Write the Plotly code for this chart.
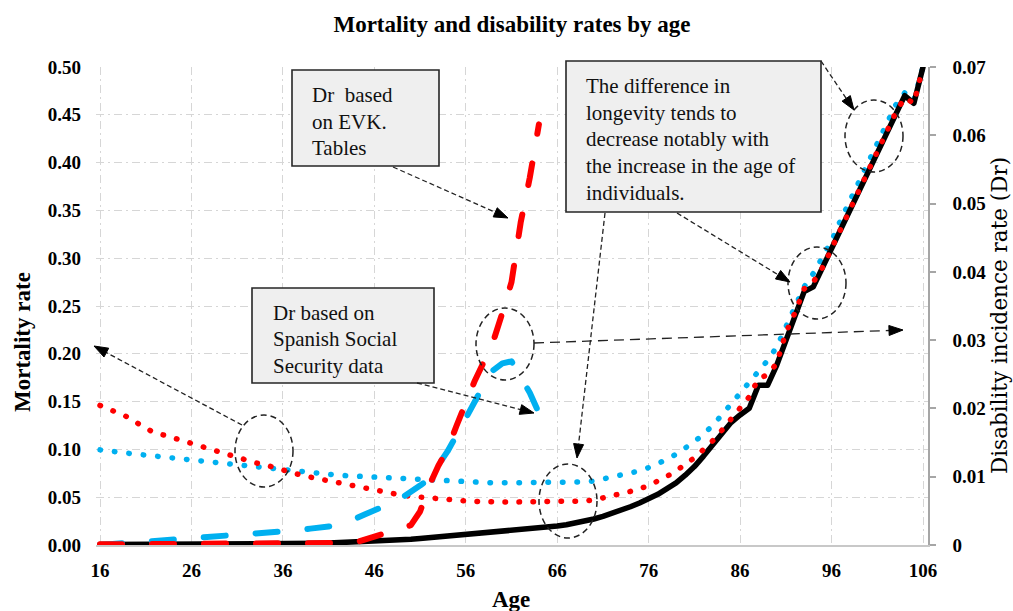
import plotly.graph_objects as go
import numpy as np

# ---------------- data ----------------
ages = list(range(16, 107))
x_ticks = [16, 26, 36, 46, 56, 66, 76, 86, 96, 106]

# Mortality rate (left axis), solid black
mort_black = [0.0004,0.0004,0.0005,0.0005,0.0005,0.0005,0.0005,0.0005,0.0006,0.0006,
              0.0006,0.0006,0.0007,0.0007,0.0008,0.0008,0.0009,0.0009,0.0010,0.0011,
              0.0012,0.0013,0.0014,0.0016,0.0018,0.0020,0.0023,0.0026,0.0029,0.0033,
              0.0037,0.0042,0.0047,0.0053,0.0060,0.0067,0.0075,0.0083,0.0092,0.0101,
              0.0110,0.0120,0.0130,0.0140,0.0150,0.0159,0.0167,0.0175,0.0183,0.0190,
              0.0198,0.0212,0.0228,0.0248,0.0272,0.0300,0.0330,0.0365,0.0400,0.0440,
              0.0480,0.0530,0.0590,0.0650,0.0730,0.0820,0.0930,0.1050,0.1170,0.1280,
              0.1360,0.1430,0.1670,0.1670,0.1880,0.2130,0.2380,0.2650,0.2700,0.2900,
              0.3100,0.3300,0.3500,0.3700,0.3900,0.4100,0.4300,0.4500,0.4700,0.4620,0.5000]

# Mortality rate (left axis), red dotted
mort_red = [0.146,0.142,0.138,0.134,0.128,0.122,0.117,0.115,0.112,0.110,
            0.107,0.104,0.100,0.097,0.094,0.091,0.088,0.086,0.084,0.081,
            0.078,0.075,0.073,0.071,0.069,0.068,0.066,0.063,0.061,0.059,
            0.058,0.056,0.054,0.052,0.051,0.050,0.049,0.048,0.048,0.047,
            0.046,0.0455,0.045,0.045,0.045,0.045,0.045,0.045,0.045,0.045,
            0.045,0.045,0.046,0.046,0.047,0.049,0.051,0.053,0.056,0.059,
            0.062,0.067,0.072,0.077,0.085,0.091,0.100,0.109,0.120,0.131,
            0.142,0.155,0.174,0.178,0.190,0.222,0.243,0.268,0.275,0.290,
            0.310,0.330,0.351,0.372,0.393,0.413,0.433,0.452,0.468,0.462,0.500]

# Mortality rate (left axis), blue dotted
mort_blue = [0.0995,0.098,0.097,0.096,0.095,0.094,0.093,0.092,0.091,0.090,
             0.089,0.088,0.086,0.085,0.084,0.083,0.082,0.081,0.080,0.079,
             0.078,0.077,0.076,0.0757,0.075,0.074,0.073,0.0725,0.072,0.0715,
             0.071,0.070,0.0695,0.069,0.0685,0.068,0.068,0.067,0.0665,0.066,
             0.0655,0.065,0.065,0.065,0.065,0.065,0.065,0.065,0.065,0.065,
             0.065,0.065,0.0655,0.066,0.067,0.069,0.071,0.073,0.0755,0.0775,
             0.081,0.085,0.0895,0.095,0.101,0.108,0.116,0.125,0.136,0.147,
             0.158,0.169,0.181,0.193,0.207,0.228,0.250,0.270,0.284,0.301,
             0.318,0.340,0.360,0.381,0.400,0.420,0.441,0.460,0.473,0.465,0.500]

# Disability incidence rate (right axis), ages 16..64
dr_ages = list(range(16, 65))
dr_evk = [0.0001,0.0001,0.0001,0.0001,0.0001,0.0001,0.0001,0.0001,0.0001,0.0001,
          0.0001,0.0001,0.0001,0.0001,0.0001,0.0001,0.0001,0.0001,0.0001,0.0001,
          0.0001,0.0001,0.0001,0.0001,0.0001,0.0002,0.0002,0.0003,0.0004,0.0008,
          0.0011,0.0015,0.0020,0.0024,0.0029,0.0049,0.0087,0.0116,0.0140,0.0175,
          0.0210,0.0241,0.0269,0.0298,0.0340,0.0385,0.0472,0.0538,0.0616]
dr_spain = [0.0000,0.0001,0.0002,0.0002,0.0003,0.0004,0.0005,0.0005,0.0006,0.0007,
            0.0008,0.0010,0.0011,0.0012,0.0013,0.0014,0.0015,0.0016,0.0017,0.0018,
            0.0020,0.0021,0.0022,0.0024,0.0025,0.0027,0.0030,0.0034,0.0039,0.0045,
            0.0050,0.0055,0.0062,0.0069,0.0077,0.0087,0.0097,0.0116,0.0137,0.0161,
            0.0186,0.0211,0.0235,0.0256,0.0266,0.0269,0.0248,0.0223,0.0193]

y_left_ticks = [0.0, 0.05, 0.10, 0.15, 0.20, 0.25, 0.30, 0.35, 0.40, 0.45, 0.50]
y_right_ticks = [0, 0.01, 0.02, 0.03, 0.04, 0.05, 0.06, 0.07]
y_right_labels = ["0", "0.01", "0.02", "0.03", "0.04", "0.05", "0.06", "0.07"]

title_text = "Mortality and disability rates by age"
box1_lines = ["Dr\u00a0 based", "on EVK.", "Tables"]
box2_lines = ["Dr based on", "Spanish Social", "Security data"]
box3_lines = ["The difference in", "longevity tends to", "decrease notably with",
              "the increase in the age of", "individuals."]

# ---------------- layout geometry (pixels) ----------------
W, H = 1013, 611
L, R, T, B = 96, 928, 67, 545
PW, PH = R - L, B - T
SERIF = "Liberation Serif"
RED = "#ff0000"
BLUE = "#00b0f0"


def px(x):
    return (x - L) / PW


def py(y):
    return (B - y) / PH


fig = go.Figure()

fig.add_trace(go.Scatter(x=ages, y=mort_blue, mode="lines",
                         line=dict(color=BLUE, width=5.5, dash="0.5px,14px"),
                         showlegend=False, hoverinfo="skip"))
fig.add_trace(go.Scatter(x=ages, y=mort_black, mode="lines",
                         line=dict(color="#000000", width=5.5),
                         showlegend=False, hoverinfo="skip"))
fig.add_trace(go.Scatter(x=dr_ages, y=dr_spain, mode="lines", yaxis="y2",
                         line=dict(color=BLUE, width=6, dash="22px,30px"),
                         showlegend=False, hoverinfo="skip"))
fig.add_trace(go.Scatter(x=dr_ages, y=dr_evk, mode="lines", yaxis="y2",
                         line=dict(color=RED, width=6, dash="22px,30px"),
                         showlegend=False, hoverinfo="skip"))
fig.add_trace(go.Scatter(x=ages, y=mort_red, mode="lines",
                         line=dict(color=RED, width=5.5, dash="0.5px,13.5px"),
                         showlegend=False, hoverinfo="skip"))

tickfont = dict(family=SERIF, size=19, color="#000000", weight="bold")
griddash = "8px,4px,2px,4px"

x0 = 16 - 4 / 9.144
x1 = 106 + 5 / 9.144

fig.update_layout(
    width=W, height=H,
    margin=dict(l=L, r=W - R, t=T, b=H - B, pad=0),
    paper_bgcolor="white", plot_bgcolor="white",
    title=dict(text=title_text, x=px(512), xref="paper", xanchor="center",
               y=1 - 24 / H, yref="container", yanchor="middle",
               font=dict(family=SERIF, size=23, color="#000000", weight="bold")),
    xaxis=dict(range=[x0, x1], tickvals=x_ticks, showgrid=True,
               gridcolor="#d6d6d6", gridwidth=1, griddash=griddash,
               showline=True, linecolor="#c8c8c8", linewidth=1.5,
               zeroline=False, ticks="", ticklabelstandoff=7,
               tickfont=tickfont),
    yaxis=dict(range=[0, 0.5], tickvals=y_left_ticks, tickformat=".2f",
               showgrid=True, gridcolor="#d6d6d6", gridwidth=1, griddash=griddash,
               showline=False, zeroline=False, ticks="", ticklabelstandoff=14,
               tickfont=tickfont),
    yaxis2=dict(range=[0, 0.07], overlaying="y", side="right",
                tickvals=y_right_ticks, ticktext=y_right_labels,
                showgrid=False, zeroline=False, showline=True,
                linecolor="#a6a6a6", linewidth=1.5, ticks="outside",
                ticklen=6, tickcolor="#a6a6a6", tickwidth=1.5,
                ticklabelstandoff=13, tickfont=tickfont),
)

annotations = []
# axis titles
annotations.append(dict(text="Mortality rate", x=px(22), y=py(342), xref="paper", yref="paper",
                        showarrow=False, textangle=-90, xanchor="center", yanchor="middle",
                        font=dict(family=SERIF, size=23, color="#000", weight="bold")))
annotations.append(dict(text="Disability incidence rate (Dr)", x=px(999), y=py(316),
                        xref="paper", yref="paper", showarrow=False, textangle=-90,
                        xanchor="center", yanchor="middle",
                        font=dict(family="DejaVu Serif", size=21.5, color="#000")))
annotations.append(dict(text="Age", x=px(511), y=py(599), xref="paper", yref="paper",
                        showarrow=False, xanchor="center", yanchor="middle",
                        font=dict(family=SERIF, size=23, color="#000", weight="bold")))

shapes = []
boxes = [((292, 70, 439, 166), 310, [95, 122, 148], box1_lines),
         ((252, 288, 434, 383), 271, [313, 339, 366], box2_lines),
         ((566, 61, 821, 212), 584, [86, 113, 139, 166, 193], box3_lines)]
for (bx0, by0, bx1, by1), tx, tys, lines in boxes:
    shapes.append(dict(type="rect", xref="paper", yref="paper",
                       x0=px(bx0), x1=px(bx1), y0=py(by1), y1=py(by0),
                       fillcolor="#efefef", line=dict(color="#262626", width=1.6),
                       layer="above"))
    for ty, txt in zip(tys, lines):
        annotations.append(dict(text=txt, x=px(tx), y=py(ty), xref="paper", yref="paper",
                                showarrow=False, xanchor="left", yanchor="middle",
                                font=dict(family=SERIF, size=21, color="#111")))

ellipses = [(264, 451, 29, 36), (505, 344, 29, 36), (568, 501, 29, 37),
            (817, 283, 29, 36), (874, 136, 29, 36)]
for cx, cy, rx, ry in ellipses:
    shapes.append(dict(type="circle", xref="paper", yref="paper",
                       x0=px(cx - rx), x1=px(cx + rx), y0=py(cy + ry), y1=py(cy - ry),
                       line=dict(color="#222", width=1.5, dash="6px,4px"),
                       fillcolor="rgba(0,0,0,0)", layer="above"))

arrows = [((393, 167), (508, 218), "5px,3px"),
          ((417, 383), (534, 413), "5px,3px"),
          ((242, 425), (94, 346), "5px,3px"),
          ((821, 61), (854, 110), "5px,3px"),
          ((677, 213), (790, 282), "5px,3px"),
          ((605, 213), (577, 458), "5px,3px"),
          ((534, 343), (903, 330), "10px,6px")]
for (sx, sy), (ex, ey), dsh in arrows:
    d = np.array([ex - sx, ey - sy], dtype=float)
    u = d / np.linalg.norm(d)
    n = np.array([-u[1], u[0]])
    hl, hw = 14.0, 5.0
    base = np.array([ex, ey]) - hl * u
    shapes.append(dict(type="line", xref="paper", yref="paper",
                       x0=px(sx), y0=py(sy), x1=px(base[0]), y1=py(base[1]),
                       line=dict(color="#222", width=1.3, dash=dsh), layer="above"))
    p1 = base + hw * n
    p2 = base - hw * n
    path = (f"M{px(ex)},{py(ey)} L{px(p1[0])},{py(p1[1])} "
            f"L{px(p2[0])},{py(p2[1])} Z")
    shapes.append(dict(type="path", xref="paper", yref="paper", path=path,
                       fillcolor="#000", line=dict(color="#000", width=1), layer="above"))

fig.update_layout(annotations=annotations, shapes=shapes, hovermode=False)

post = ("var s=document.createElement('style');"
        "s.innerHTML='html,body{margin:0;padding:0;overflow:hidden;}"
        ".scatterlayer .js-line{stroke-linecap:round;stroke-linejoin:round;}';"
        "document.head.appendChild(s);")
fig.write_html("out.html", post_script=post, config={"displayModeBar": False})
